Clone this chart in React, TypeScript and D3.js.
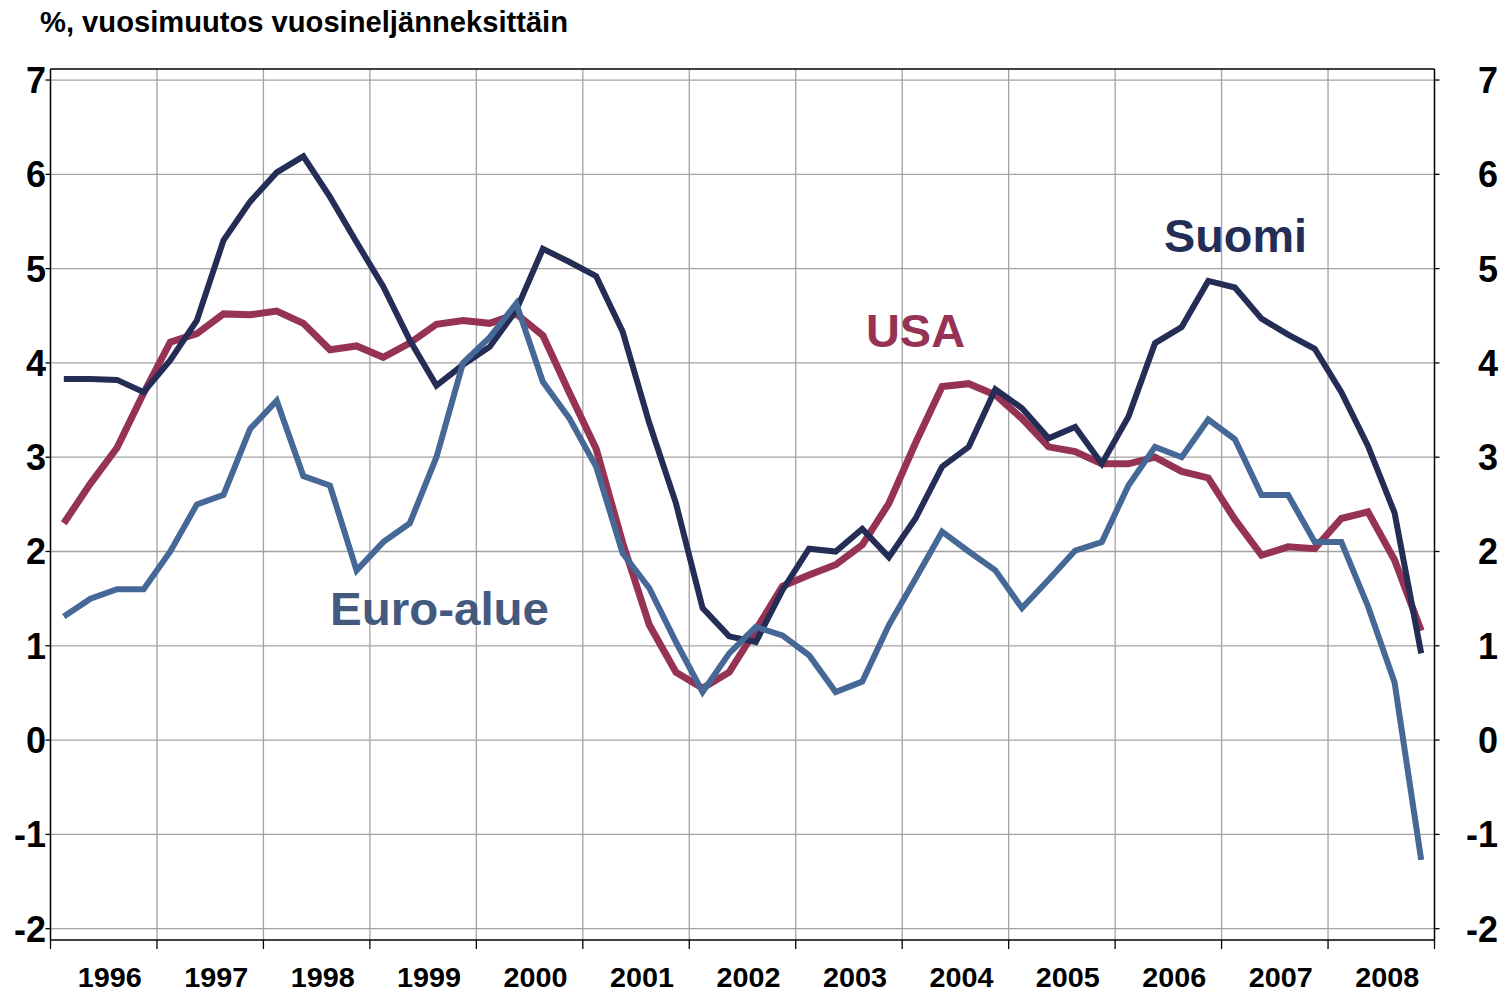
import React from "react";
import * as d3 from "d3";

const years = [1996, 1997, 1998, 1999, 2000, 2001, 2002, 2003, 2004, 2005, 2006, 2007, 2008];
const yTicks = [-2, -1, 0, 1, 2, 3, 4, 5, 6, 7];

const suomi = [3.83, 3.83, 3.82, 3.69, 4.03, 4.45, 5.30, 5.71, 6.02, 6.19, 5.76, 5.28, 4.81, 4.24, 3.76, 3.98, 4.17, 4.56, 5.21, 5.07, 4.92, 4.33, 3.36, 2.51, 1.40, 1.10, 1.04, 1.59, 2.03, 2.00, 2.24, 1.94, 2.35, 2.90, 3.11, 3.72, 3.52, 3.20, 3.32, 2.93, 3.43, 4.21, 4.38, 4.87, 4.80, 4.47, 4.30, 4.15, 3.69, 3.12, 2.41, 0.92];
const usa = [2.30, 2.72, 3.10, 3.68, 4.22, 4.31, 4.52, 4.51, 4.55, 4.42, 4.14, 4.18, 4.06, 4.21, 4.41, 4.45, 4.42, 4.52, 4.29, 3.68, 3.09, 2.09, 1.22, 0.72, 0.55, 0.72, 1.17, 1.63, 1.75, 1.86, 2.07, 2.51, 3.15, 3.75, 3.78, 3.66, 3.41, 3.11, 3.06, 2.93, 2.93, 3.00, 2.85, 2.78, 2.34, 1.96, 2.05, 2.03, 2.35, 2.42, 1.91, 1.16];
const euro = [1.31, 1.50, 1.60, 1.60, 2.00, 2.50, 2.60, 3.30, 3.60, 2.80, 2.70, 1.80, 2.10, 2.30, 3.00, 4.00, 4.27, 4.63, 3.80, 3.41, 2.90, 1.98, 1.61, 1.04, 0.51, 0.92, 1.20, 1.11, 0.90, 0.51, 0.62, 1.22, 1.71, 2.21, 2.00, 1.80, 1.40, 1.70, 2.01, 2.10, 2.70, 3.11, 3.00, 3.40, 3.19, 2.60, 2.60, 2.10, 2.10, 1.42, 0.61, -1.27];

const title = "%, vuosimuutos vuosineljänneksittäin";

const W = 1505;
const H = 994;
const left = 50.5;
const right = 1434.5;
const top = 69;
const bottom = 940;

const FONT = "'Liberation Sans', Arial, Helvetica, sans-serif";

export default function App() {
  const x = d3.scaleLinear().domain([1996, 2009]).range([left, right]);
  const y = d3.scaleLinear().domain([-2.12, 7.117]).range([bottom, top]);
  const qx = (i: number) => x(1996 + (i + 0.5) / 4);
  const line = d3
    .line<number>()
    .x((_, i) => qx(i))
    .y((d) => y(d));

  const series = [
    { name: "USA", data: usa, color: "#963254", width: 7 },
    { name: "Suomi", data: suomi, color: "#232D55", width: 6 },
    { name: "Euro-alue", data: euro, color: "#466896", width: 6 },
  ];

  const gridColor = "#a3a3a3";
  const boundaries = d3.range(1996, 2010);

  return (
    <svg
      width={W}
      height={H}
      style={{ position: "absolute", left: 0, top: 0, background: "#fff" }}
      fontFamily={FONT}
    >
      <rect x={0} y={0} width={W} height={H} fill="#fff" />
      <text x={40} y={32} fontSize={29} fontWeight="bold" fill="#000" textLength={528} lengthAdjust="spacingAndGlyphs">
        {title}
      </text>

      {yTicks.map((t) => (
        <line key={"h" + t} x1={left} x2={right} y1={y(t)} y2={y(t)} stroke={gridColor} strokeWidth={1.3} />
      ))}
      {boundaries.slice(1, -1).map((b) => (
        <line key={"v" + b} x1={x(b)} x2={x(b)} y1={top} y2={bottom} stroke={gridColor} strokeWidth={1.3} />
      ))}

      <line x1={left} x2={right} y1={top} y2={top} stroke="#000" strokeWidth={1.3} />
      <line x1={left} x2={right} y1={bottom} y2={bottom} stroke="#000" strokeWidth={1.5} />
      <line x1={left} x2={left} y1={top} y2={bottom} stroke="#000" strokeWidth={1.5} />
      <line x1={right} x2={right} y1={top} y2={bottom} stroke="#000" strokeWidth={1.5} />

      {yTicks.map((t) => (
        <g key={"yt" + t}>
          <line x1={left - 5} x2={left} y1={y(t)} y2={y(t)} stroke="#000" strokeWidth={1.3} />
          <line x1={right} x2={right + 5} y1={y(t)} y2={y(t)} stroke="#000" strokeWidth={1.3} />
          <text x={46} y={y(t)} dy="0.36em" textAnchor="end" fontSize={36} fontWeight="bold" fill="#000">
            {t}
          </text>
          <text x={1498} y={y(t)} dy="0.36em" textAnchor="end" fontSize={36} fontWeight="bold" fill="#000">
            {t}
          </text>
        </g>
      ))}

      {boundaries.map((b) => (
        <line key={"xt" + b} x1={x(b)} x2={x(b)} y1={bottom} y2={bottom + 9} stroke="#000" strokeWidth={1.3} />
      ))}
      {years.map((yr) => (
        <text
          key={"xl" + yr}
          x={x(yr + 0.5) + 6}
          y={987}
          textAnchor="middle"
          fontSize={28}
          fontWeight="bold"
          fill="#000"
          textLength={64}
          lengthAdjust="spacingAndGlyphs"
        >
          {yr}
        </text>
      ))}

      {series.map((s) => (
        <path
          key={s.name}
          d={line(s.data) || ""}
          fill="none"
          stroke={s.color}
          strokeWidth={s.width}
          strokeLinejoin="miter"
          strokeMiterlimit={4}
        />
      ))}

      <text x={1164} y={252} fontSize={47} fontWeight="bold" fill="#232D55" textLength={143} lengthAdjust="spacingAndGlyphs">
        Suomi
      </text>
      <text x={866} y={347} fontSize={47} fontWeight="bold" fill="#963254" textLength={99} lengthAdjust="spacingAndGlyphs">
        USA
      </text>
      <text x={330} y={625} fontSize={47} fontWeight="bold" fill="#44597E" textLength={219} lengthAdjust="spacingAndGlyphs">
        Euro-alue
      </text>
    </svg>
  );
}
